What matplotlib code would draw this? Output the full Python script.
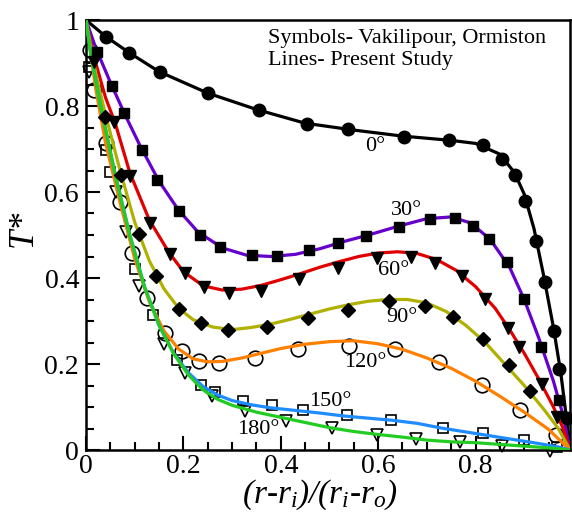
#!/usr/bin/env python3
# plot.py
# Dimensionless temperature profiles across the gap, symbols vs present-study lines.

import matplotlib
matplotlib.use("Agg")
import matplotlib.pyplot as plt
from matplotlib.ticker import MultipleLocator

plt.rcParams["font.family"] = ["Liberation Serif", "DejaVu Serif"]
plt.rcParams["mathtext.fontset"] = "custom"
plt.rcParams["mathtext.rm"] = "Liberation Serif:italic"
plt.rcParams["mathtext.it"] = "Liberation Serif:italic"

# ---- symbols (Vakilipour, Ormiston) ----
sym0_x = [0.041, 0.089, 0.153, 0.251, 0.355, 0.453, 0.539, 0.654, 0.745, 0.816, 0.855, 0.881, 0.902, 0.925, 0.942, 0.962, 0.972, 0.988]
sym0_y = [0.961, 0.923, 0.878, 0.830, 0.791, 0.758, 0.746, 0.729, 0.721, 0.710, 0.677, 0.639, 0.580, 0.485, 0.391, 0.276, 0.189, 0.075]

sym30_x = [0.022, 0.053, 0.078, 0.114, 0.146, 0.191, 0.234, 0.275, 0.340, 0.392, 0.458, 0.517, 0.575, 0.643, 0.707, 0.757, 0.794, 0.828, 0.864, 0.899, 0.934, 0.972]
sym30_y = [0.926, 0.847, 0.783, 0.697, 0.629, 0.555, 0.501, 0.473, 0.453, 0.451, 0.465, 0.481, 0.497, 0.519, 0.538, 0.539, 0.522, 0.491, 0.438, 0.351, 0.240, 0.117]

sym60_x = [0.016, 0.057, 0.091, 0.132, 0.172, 0.203, 0.242, 0.294, 0.360, 0.438, 0.517, 0.597, 0.668, 0.717, 0.772, 0.819, 0.866, 0.890, 0.936, 0.967]
sym60_y = [0.902, 0.762, 0.637, 0.527, 0.455, 0.412, 0.379, 0.366, 0.369, 0.398, 0.424, 0.446, 0.448, 0.436, 0.405, 0.352, 0.284, 0.240, 0.153, 0.077]

sym90_x = [0.040, 0.072, 0.108, 0.144, 0.190, 0.236, 0.292, 0.372, 0.456, 0.538, 0.622, 0.697, 0.754, 0.815, 0.868, 0.912]
sym90_y = [0.775, 0.640, 0.503, 0.405, 0.328, 0.295, 0.279, 0.287, 0.306, 0.326, 0.346, 0.335, 0.309, 0.258, 0.197, 0.137]

sym120_x = [0.008, 0.017, 0.042, 0.070, 0.095, 0.125, 0.162, 0.197, 0.232, 0.273, 0.347, 0.436, 0.541, 0.635, 0.724, 0.813, 0.892, 0.966]
sym120_y = [0.931, 0.837, 0.715, 0.577, 0.459, 0.354, 0.273, 0.231, 0.208, 0.203, 0.214, 0.234, 0.243, 0.236, 0.205, 0.152, 0.094, 0.036]

sym150_x = [0.006, 0.042, 0.049, 0.101, 0.137, 0.187, 0.237, 0.265, 0.322, 0.381, 0.446, 0.535, 0.627, 0.733, 0.816, 0.899, 0.967]
sym150_y = [0.890, 0.698, 0.647, 0.421, 0.313, 0.210, 0.152, 0.136, 0.115, 0.105, 0.092, 0.081, 0.070, 0.051, 0.039, 0.024, 0.007]

sym180_x = [0.006, 0.061, 0.082, 0.109, 0.160, 0.203, 0.258, 0.327, 0.410, 0.505, 0.597, 0.678, 0.768, 0.855, 0.953]
sym180_y = [0.879, 0.601, 0.508, 0.382, 0.247, 0.180, 0.125, 0.090, 0.067, 0.051, 0.035, 0.026, 0.018, 0.010, -0.003]

# ---- lines (present study) ----
line0_x = [0, 0.04, 0.09, 0.15, 0.25, 0.35, 0.45, 0.55, 0.65, 0.75, 0.80, 0.85, 0.88, 0.90, 0.92, 0.94, 0.96, 0.975, 0.985, 0.994]
line0_y = [1, 0.962, 0.923, 0.880, 0.830, 0.792, 0.760, 0.744, 0.730, 0.720, 0.713, 0.688, 0.645, 0.595, 0.515, 0.405, 0.285, 0.18, 0.09, 0.0]

line30_x = [0, 0.02, 0.05, 0.08, 0.11, 0.15, 0.19, 0.23, 0.28, 0.33, 0.38, 0.43, 0.48, 0.53, 0.58, 0.64, 0.70, 0.75, 0.79, 0.83, 0.87, 0.90, 0.93, 0.96, 0.98, 0.994]
line30_y = [1, 0.935, 0.855, 0.780, 0.710, 0.625, 0.558, 0.507, 0.470, 0.453, 0.450, 0.455, 0.468, 0.485, 0.500, 0.520, 0.538, 0.542, 0.528, 0.49, 0.425, 0.35, 0.26, 0.16, 0.08, 0.0]

line60_x = [0, 0.015, 0.04, 0.06, 0.09, 0.13, 0.17, 0.20, 0.24, 0.28, 0.32, 0.36, 0.40, 0.44, 0.48, 0.52, 0.56, 0.60, 0.64, 0.68, 0.72, 0.76, 0.80, 0.84, 0.87, 0.90, 0.93, 0.96, 0.98, 0.994]
line60_y = [1, 0.92, 0.82, 0.76, 0.645, 0.535, 0.46, 0.415, 0.382, 0.372, 0.374, 0.383, 0.396, 0.410, 0.425, 0.438, 0.450, 0.458, 0.461, 0.457, 0.443, 0.418, 0.38, 0.33, 0.28, 0.225, 0.165, 0.10, 0.05, 0.0]

line90_x = [0, 0.02, 0.04, 0.07, 0.10, 0.13, 0.16, 0.19, 0.22, 0.26, 0.30, 0.34, 0.38, 0.42, 0.46, 0.50, 0.54, 0.58, 0.62, 0.66, 0.70, 0.74, 0.78, 0.82, 0.86, 0.90, 0.94, 0.97, 0.994]
line90_y = [1, 0.875, 0.78, 0.65, 0.53, 0.44, 0.375, 0.33, 0.303, 0.286, 0.280, 0.285, 0.293, 0.304, 0.316, 0.328, 0.338, 0.346, 0.350, 0.350, 0.342, 0.322, 0.29, 0.25, 0.20, 0.15, 0.095, 0.05, 0.0]

line120_x = [0, 0.01, 0.02, 0.04, 0.07, 0.10, 0.13, 0.16, 0.19, 0.22, 0.25, 0.28, 0.32, 0.36, 0.40, 0.45, 0.50, 0.55, 0.60, 0.65, 0.70, 0.75, 0.80, 0.85, 0.90, 0.95, 0.994]
line120_y = [1, 0.92, 0.84, 0.715, 0.575, 0.445, 0.345, 0.277, 0.235, 0.212, 0.205, 0.206, 0.214, 0.225, 0.236, 0.246, 0.252, 0.254, 0.247, 0.234, 0.214, 0.19, 0.16, 0.125, 0.088, 0.048, 0.0]

line150_x = [0, 0.01, 0.03, 0.06, 0.09, 0.12, 0.15, 0.18, 0.21, 0.24, 0.27, 0.30, 0.34, 0.38, 0.43, 0.48, 0.53, 0.58, 0.63, 0.68, 0.73, 0.78, 0.83, 0.88, 0.93, 0.97, 0.994]
line150_y = [1, 0.92, 0.80, 0.64, 0.50, 0.38, 0.29, 0.225, 0.18, 0.148, 0.128, 0.115, 0.105, 0.098, 0.092, 0.086, 0.079, 0.074, 0.069, 0.062, 0.051, 0.042, 0.033, 0.024, 0.015, 0.007, 0.0]

line180_x = [0, 0.01, 0.03, 0.06, 0.09, 0.12, 0.15, 0.18, 0.21, 0.24, 0.27, 0.30, 0.35, 0.40, 0.45, 0.50, 0.55, 0.60, 0.65, 0.70, 0.75, 0.80, 0.85, 0.90, 0.95, 0.994]
line180_y = [1, 0.92, 0.80, 0.64, 0.50, 0.38, 0.29, 0.224, 0.175, 0.140, 0.118, 0.104, 0.088, 0.076, 0.064, 0.052, 0.043, 0.036, 0.030, 0.023, 0.019, 0.017, 0.013, 0.009, 0.005, 0.0]

# angle labels
angle_labels = ["0°", "30°", "60°", "90°", "120°", "150°", "180°"]
angle_lab_x = [0.594, 0.659, 0.631, 0.649, 0.573, 0.501, 0.354]
angle_lab_y = [0.706, 0.557, 0.418, 0.307, 0.203, 0.113, 0.048]

colors = ["black", "#6600cc", "#e00000", "#b0b000", "#ff8000", "#1e8cff", "#22cc22"]

fig = plt.figure(figsize=(5.72, 5.13), dpi=100)
ax = fig.add_axes([86 / 572, 63 / 513, 484 / 572, 430 / 513])

lines = [(line0_x, line0_y), (line30_x, line30_y), (line60_x, line60_y), (line90_x, line90_y),
         (line120_x, line120_y), (line150_x, line150_y), (line180_x, line180_y)]
for (lx, ly), c in zip(lines, colors):
    ax.plot(lx, ly, color=c, lw=2.3, zorder=3, solid_capstyle="round")

# filled symbols sit on top of the lines, open ones underneath
ax.plot(sym0_x, sym0_y, "o", color="black", ms=9, zorder=4, clip_on=False)
ax.plot(sym30_x, sym30_y, "s", color="black", ms=7, zorder=4, clip_on=False)
ax.plot(sym60_x, sym60_y, "v", color="black", ms=8, zorder=4, clip_on=False)
ax.plot(sym90_x, sym90_y, "D", color="black", ms=7, zorder=4, clip_on=False)
ax.plot(sym120_x, sym120_y, "o", mfc="none", mec="black", mew=1.2, ms=10.5, zorder=2, clip_on=False)
ax.plot(sym150_x, sym150_y, "s", mfc="none", mec="black", mew=1.2, ms=7.5, zorder=2, clip_on=False)
ax.plot(sym180_x, sym180_y, "v", mfc="none", mec="black", mew=1.2, ms=8.5, zorder=2, clip_on=False)

for t, x, y in zip(angle_labels, angle_lab_x, angle_lab_y):
    ax.text(x, y, t, fontsize=16, ha="center", va="center", zorder=5)

ax.set_xlim(0, 0.994)
ax.set_ylim(0, 1)
ax.xaxis.set_minor_locator(MultipleLocator(0.05))
ax.yaxis.set_minor_locator(MultipleLocator(0.05))
ax.set_xticks([0, 0.2, 0.4, 0.6, 0.8])
ax.set_xticklabels(["0", "0.2", "0.4", "0.6", "0.8"])
ax.set_yticks([0, 0.2, 0.4, 0.6, 0.8, 1.0])
ax.set_yticklabels(["0", "0.2", "0.4", "0.6", "0.8", "1"])
ax.tick_params(which="both", direction="in", top=False, right=False, labelsize=20, width=1.5)
ax.tick_params(axis="x", pad=3)
ax.tick_params(axis="y", pad=5)
ax.tick_params(which="major", length=10)
ax.tick_params(which="minor", length=6)
for s in ax.spines.values():
    s.set_linewidth(1.8)

ax.set_xlabel("$(r$-$r_{i})/(r_{i}$-$r_{o})$", fontsize=24, fontstyle="italic")
ax.xaxis.set_label_coords(0.483, -0.065)
ax.set_ylabel("$T$*", fontsize=25, fontstyle="italic")
ax.yaxis.set_label_coords(-0.09, 0.51)

fig.text(268 / 572, 1 - 43 / 513, "Symbols- Vakilipour, Ormiston", fontsize=16, va="baseline")
fig.text(268 / 572, 1 - 65 / 513, "Lines- Present Study", fontsize=16, va="baseline")

fig.savefig("out.png", dpi=100)
